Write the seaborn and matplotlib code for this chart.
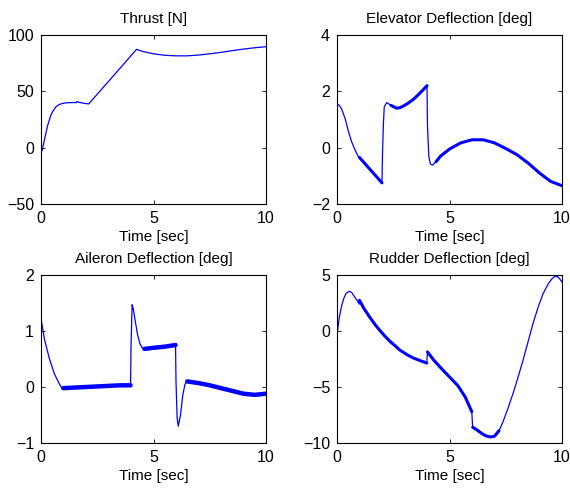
import pandas as pd
import matplotlib
matplotlib.use("Agg")
import matplotlib.pyplot as plt
import seaborn as sns

# Thrust [N]
thrust_t = [0, 0.05, 0.15, 0.3, 0.44, 0.55, 0.67, 0.8, 0.96, 1.1, 1.26, 1.45, 1.56, 1.6, 1.65,
            1.85, 2.12, 4.25, 4.5, 5.0, 5.5, 6.0, 6.5, 7.0, 7.5, 8.0, 8.5, 9.0, 9.5, 10]
thrust_v = [-2, -2.7, 6.8, 20, 29, 33, 36.4, 38.2, 39.3, 39.7, 40, 40, 40, 41, 40.4,
            39.6, 38.8, 87.3, 85.5, 83.3, 82.0, 81.5, 81.5, 82.2, 83.3, 84.6, 86.1, 87.5, 88.7, 89.6]

# Elevator deflection [deg]
elev_t = [0, 0.01, 0.1, 0.2, 0.36, 0.5, 0.65, 0.8, 0.95, 1.0, 1.5, 2.0, 2.02, 2.06, 2.1, 2.21,
          2.4, 2.65, 2.8, 3.0, 3.2, 3.4, 3.6, 3.8, 4.0, 4.02, 4.08, 4.15, 4.25, 4.4, 4.6, 5.0,
          5.5, 6.0, 6.5, 7.0, 7.5, 8.0, 8.5, 9.0, 9.5, 10]
elev_v = [0, 1.55, 1.5, 1.38, 1.04, 0.6, 0.21, -0.08, -0.32, -0.35, -0.8, -1.25, -0.3, 0.8, 1.45, 1.6,
          1.5, 1.4, 1.42, 1.5, 1.6, 1.72, 1.87, 2.03, 2.2, 0.8, -0.3, -0.58, -0.62, -0.5, -0.3, -0.05,
          0.17, 0.28, 0.28, 0.17, -0.03, -0.25, -0.55, -0.9, -1.2, -1.35]

# Aileron deflection [deg]
ail_t = [0, 0.01, 0.15, 0.37, 0.59, 0.81, 0.97, 1.0, 1.5, 2, 2.5, 3, 3.5, 3.98, 4.0, 4.05, 4.1,
         4.2, 4.3, 4.4, 4.5, 4.6, 5.0, 5.5, 5.98, 6.0, 6.05, 6.1, 6.2, 6.3, 6.4, 6.5, 7, 7.5, 8,
         8.5, 9, 9.5, 10]
ail_v = [0, 1.2, 0.86, 0.51, 0.24, 0.06, -0.05, -0.02, -0.01, 0.0, 0.01, 0.02, 0.03, 0.03, 0.7, 1.47, 1.4,
         1.15, 0.92, 0.77, 0.7, 0.68, 0.7, 0.72, 0.75, 0.1, -0.55, -0.7, -0.5, -0.15, 0.05, 0.1, 0.07, 0.03, -0.02,
         -0.07, -0.12, -0.14, -0.12]

# Rudder deflection [deg]
rud_t = [0, 0.1, 0.2, 0.3, 0.4, 0.53, 0.65, 0.8, 0.9, 0.99, 1.0, 1.2, 1.45, 1.7, 1.9, 2.1, 2.34, 2.6,
         2.79, 3.1, 3.38, 3.7, 3.99, 4.02, 4.3, 4.71, 5.0, 5.38, 5.7, 5.99, 6.03, 6.2, 6.4, 6.6, 6.82,
         7.0, 7.2, 7.38, 7.6, 7.82, 8.05, 8.27, 8.5, 8.71, 8.95, 9.16, 9.4, 9.55, 9.68, 9.8, 9.9, 10]
rud_v = [-0.4, 1.2, 2.2, 2.9, 3.35, 3.54, 3.45, 3.0, 2.7, 2.4, 2.74, 2.0, 1.25, 0.55, 0.06, -0.4, -0.9, -1.35,
         -1.7, -2.1, -2.4, -2.65, -2.86, -1.87, -2.6, -3.5, -4.1, -4.9, -5.9, -7.2, -8.6, -8.8, -9.1, -9.35, -9.46,
         -9.4, -8.9, -8.1, -6.9, -5.6, -4.1, -2.6, -0.9, 0.66, 2.2, 3.34, 4.25, 4.65, 4.88, 4.85, 4.65, 4.37]

titles = ["Thrust [N]", "Elevator Deflection [deg]", "Aileron Deflection [deg]", "Rudder Deflection [deg]"]
ylims = [(-50, 100), (-2, 4), (-1, 2), (-10, 5)]
yticks = [[-50, 0, 50, 100], [-2, 0, 2, 4], [-1, 0, 1, 2], [-10, -5, 0, 5]]
# time windows where the signal chatters (drawn as a thick band)
thick = [[], [(1.0, 2.0), (2.3, 4.0), (4.35, 10)],
         [(1.0, 3.98), (4.55, 5.98), (6.45, 10)],
         [(1.0, 3.99), (4.02, 5.99), (6.03, 7.2)]]
thick_lw = [0, 2.2, 3.2, 2.2]

sns.set_style("ticks")
plt.rcParams["font.family"] = ["Liberation Sans", "DejaVu Sans"]
plt.rcParams["font.size"] = 11
for k in ["text.color", "axes.labelcolor", "xtick.color", "ytick.color"]:
    plt.rcParams[k] = "black"

fig = plt.figure(figsize=(5.7, 4.88), dpi=100)
W, H = 570, 488
boxes = [(41, 35, 225, 169), (337, 35, 225, 169), (41, 275, 225, 168), (337, 275, 225, 168)]
series = [(thrust_t, thrust_v), (elev_t, elev_v), (ail_t, ail_v), (rud_t, rud_v)]

for i, (x0, y0, w, h) in enumerate(boxes):
    ax = fig.add_axes([x0 / W, 1 - (y0 + h) / H, w / W, h / H])
    df = pd.DataFrame({"t": series[i][0], "v": series[i][1]})
    sns.lineplot(data=df, x="t", y="v", ax=ax, color="blue", lw=0.9, estimator=None, sort=False)
    for a, b in thick[i]:
        sub = df[(df["t"] >= a) & (df["t"] <= b)]
        sns.lineplot(data=sub, x="t", y="v", ax=ax, color="blue", lw=thick_lw[i],
                     estimator=None, sort=False)
    ax.set_xlim(0, 10)
    ax.set_ylim(*ylims[i])
    ax.set_xticks([0, 5, 10])
    ax.set_yticks(yticks[i])
    ax.set_xticklabels(["0", "5", "10"])
    ax.set_yticklabels([str(v).replace("-", "\u2212") for v in yticks[i]])
    ax.tick_params(direction="in", top=True, right=True, length=3, width=0.6,
                   labelsize=11.5, pad=5)
    for s in ax.spines.values():
        s.set_visible(True)
        s.set_linewidth(0.8)
        s.set_color("black")
    ax.set_title(titles[i], fontsize=11, pad=9)
    ax.set_xlabel("Time [sec]", fontsize=11, labelpad=3)
    ax.set_ylabel("")

fig.savefig("out.png", dpi=100)
